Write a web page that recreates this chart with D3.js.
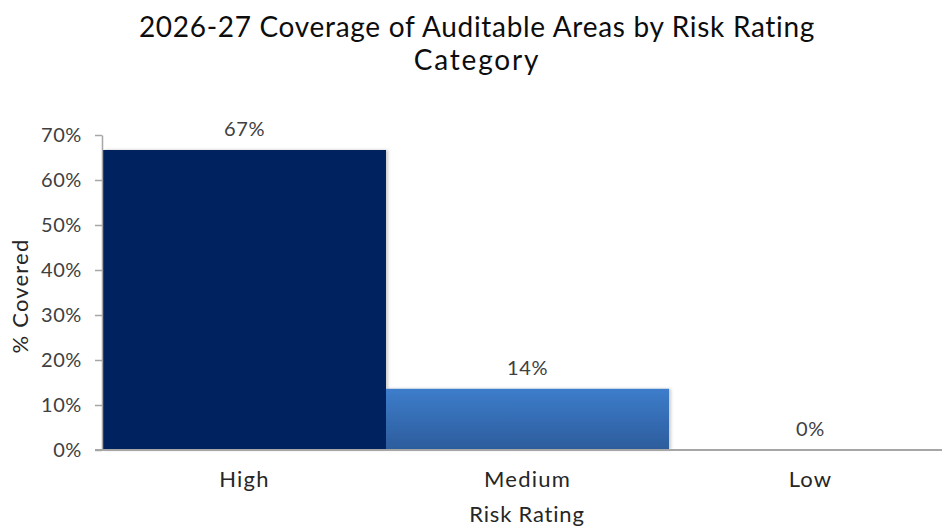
<!DOCTYPE html>
<html><head><meta charset="utf-8">
<script src="https://cdn.jsdelivr.net/npm/d3@7"></script>
<style>body{margin:0;background:#fff}svg{display:block}text{font-family:"Lato","Open Sans",sans-serif}</style>
</head><body><svg id="c" width="942" height="526"></svg>
<script>
const categories = ["High", "Medium", "Low"];
const values = [66.67, 13.6, 0];
const labels = ["67%", "14%", "0%"];
const yTicks = [0, 10, 20, 30, 40, 50, 60, 70];
const titleLines = ["2026-27 Coverage of Auditable Areas by Risk Rating", "Category"];

const svg = d3.select("#c");
const m = {left: 102, right: -10, top: 135, bottom: 76};
const W = 942, H = 526;
const x = d3.scaleBand().domain(categories).range([m.left + 1, W - m.right]).padding(0);
const y = d3.scaleLinear().domain([0, 70]).range([450, 135]);

const defs = svg.append("defs");
const g = defs.append("linearGradient").attr("id", "med").attr("x1", 0).attr("y1", 0).attr("x2", 0).attr("y2", 1);
g.append("stop").attr("offset", "0%").attr("stop-color", "#3d7dcb");
g.append("stop").attr("offset", "100%").attr("stop-color", "#2c5c9c");
const f = defs.append("filter").attr("id", "sh").attr("x", "-5%").attr("y", "-5%").attr("width", "115%").attr("height", "115%");
f.append("feDropShadow").attr("dx", 2).attr("dy", 0).attr("stdDeviation", 1.5).attr("flood-color", "#000").attr("flood-opacity", 0.2);

const fills = ["#02205e", "url(#med)", "#4a7ebb"];

svg.append("g").selectAll("rect").data(values).join("rect")
  .attr("x", (d, i) => x(categories[i]))
  .attr("width", x.bandwidth())
  .attr("y", d => y(d))
  .attr("height", d => y(0) - y(d))
  .attr("fill", (d, i) => fills[i])
  .attr("filter", "url(#sh)");

// y axis
const ya = svg.append("g").attr("transform", `translate(${m.left},0)`)
  .call(d3.axisLeft(y).tickValues(yTicks).tickFormat(d => d + "%").tickSize(7).tickSizeOuter(0));
ya.select(".domain").attr("stroke", "#a6a6a6").attr("stroke-width", 1.5);
ya.selectAll(".tick line").attr("stroke", "#a6a6a6").attr("stroke-width", 1.5);
ya.selectAll(".tick text").attr("fill", "#404040").attr("font-size", 20).attr("letter-spacing", 0.6)
  .attr("x", -20).attr("font-family", "Lato");

// x axis line
svg.append("line").attr("x1", 95).attr("x2", W).attr("y1", y(0)).attr("y2", y(0))
  .attr("stroke", "#a6a6a6").attr("stroke-width", 2);

// category labels
svg.append("g").selectAll("text").data(categories).join("text")
  .attr("x", d => x(d) + x.bandwidth() / 2).attr("y", 487)
  .attr("text-anchor", "middle").attr("font-size", 22).attr("letter-spacing", 1.2).attr("fill", "#262626").text(d => d);

// data labels
svg.append("g").selectAll("text").data(values).join("text")
  .attr("x", (d, i) => x(categories[i]) + x.bandwidth() / 2).attr("y", d => y(d) - 14)
  .attr("text-anchor", "middle").attr("font-size", 20).attr("letter-spacing", 0.6).attr("fill", "#404040").text((d, i) => labels[i]);

// axis titles
svg.append("text").attr("x", 527).attr("y", 522).attr("text-anchor", "middle")
  .attr("font-size", 22).attr("letter-spacing", 0.8).attr("fill", "#262626").text("Risk Rating");
svg.append("text").attr("transform", "translate(28,296) rotate(-90)").attr("text-anchor", "middle")
  .attr("font-size", 22).attr("letter-spacing", 1.2).attr("fill", "#262626").text("% Covered");

// title
svg.append("g").selectAll("text").data(titleLines).join("text")
  .attr("x", 477).attr("y", (d, i) => 37 + i * 33).attr("text-anchor", "middle")
  .attr("font-size", 28).attr("letter-spacing", (d, i) => i ? 1.8 : 0.7).attr("fill", "#0d0d0d").text(d => d);
</script></body></html>
